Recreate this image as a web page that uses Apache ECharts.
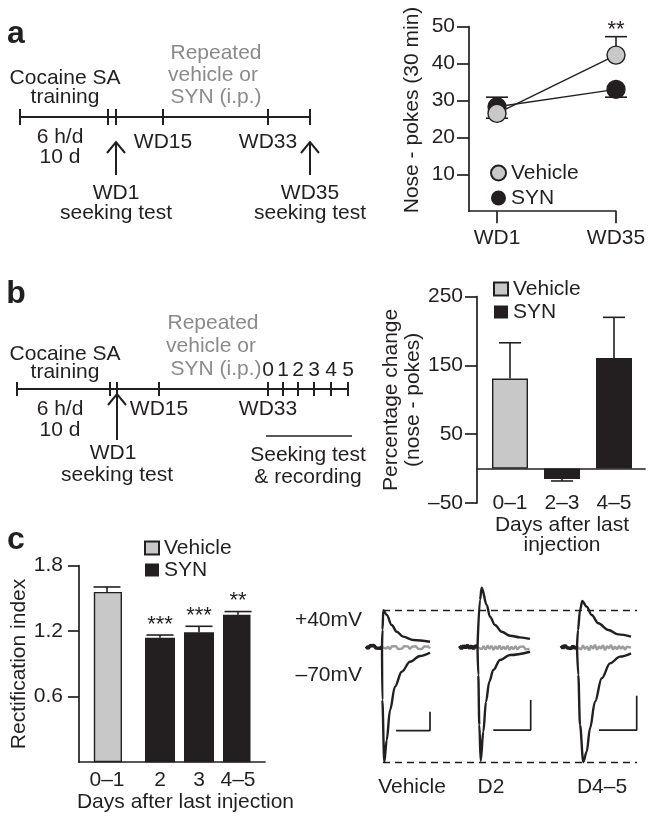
<!DOCTYPE html>
<html><head><meta charset="utf-8">
<script src="https://cdn.jsdelivr.net/npm/echarts@6/dist/echarts.min.js"></script>
<style>html,body{margin:0;padding:0;background:#fff}#chart{width:654px;height:819px}</style>
</head><body><div id="chart"></div>
<script>
// ================= DATA =================
// Panel a : nose-pokes (30 min)
const aCategories = ['WD1', 'WD35'];
const aVehicleMean = [26.5, 42.3];
const aVehicleSem  = [1.3, 5.0];
const aSynMean     = [28.3, 33.0];
const aSynSem      = [2.6, 2.1];
const aStars       = ['', '**'];
const aYTicks      = [10, 20, 30, 40, 50];

// Panel b : percentage change (nose-pokes)
const bCategories  = ['0–1', '2–3', '4–5'];
const bVehicleMean = [131, null, null];
const bSynMean     = [null, -15, 161];
const bSem         = [52, 3, 59];
const bYTicks      = [-50, 50, 150, 250];

// Panel c : rectification index
const cCategories  = ['0–1', '2', '3', '4–5'];
const cVehicleMean = [1.56, null, null, null];
const cSynMean     = [null, 1.14, 1.19, 1.35];
const cSem         = [0.045, 0.025, 0.055, 0.03];
const cStars       = ['', '***', '***', '**'];
const cYTicks      = [0.6, 1.2, 1.8];

// Panel c traces : [time ms from step, current normalised to -70 mV peak]
const traceLabels = ['Vehicle', 'D2', 'D4–5'];
const sampleMs = 1;
const vehUpper = [[0,0],[0.25,0.15],[0.65,0.32],[2.35,0.278],[4.85,0.191],[7.35,0.133],[10.65,0.09],[15.65,0.061],[24,0.046]];
const vehLower = [[0,0],[0.15,-0.46],[1.15,-1.0],[2.35,-0.81],[4,-0.55],[6.5,-0.345],[9.85,-0.215],[14,-0.128],[19,-0.078],[24,-0.05]];
const vehPre   = [0.006,-0.012,0.01,-0.004,0.013,-0.009,0.007,-0.011,0];
const vehGray  = [0,0.007,-0.015,0.003,-0.019,0.006,-0.011,0.008,-0.017,0,-0.014,0.007,-0.009,0.005,-0.018,0.002,-0.013,0.006,-0.015,-0.001,-0.017,0.004,-0.011,0.005,-0.013];
const vehScale = [[7,-0.728],[24,-0.728],[24,-0.563]];

const d2Upper = [[0,0],[1.25,0.41],[2.1,0.516],[4.6,0.365],[6.25,0.263],[8.75,0.191],[12.1,0.133],[16.25,0.098],[21.25,0.084],[26.25,0.07]];
const d2Lower = [[0,0],[0.4,-0.243],[0.9,-0.678],[1.6,-0.99],[2.9,-0.737],[4.25,-0.476],[5.9,-0.302],[7.9,-0.2],[11.25,-0.113],[16.25,-0.07],[26.25,-0.041]];
const d2Pre   = [0.01,-0.015,0.012,-0.008,0.016,-0.012,0.009,-0.014,0.011,0];
const d2Gray  = [0,0.012,-0.02,0.008,-0.024,0.014,-0.016,0.01,-0.026,0.006,-0.018,0.012,-0.022,0.004,-0.02,0.01,-0.025,0.002,-0.019,0.008,-0.023,0,-0.017,0.006,-0.021,-0.004,-0.016];
const d2Scale = [[7.9,-0.722],[26.6,-0.722],[26.6,-0.461]];

const d45Upper = [[0,0],[0.5,0.148],[1.5,0.32],[2.65,0.4],[4.85,0.35],[7.35,0.278],[10.65,0.206],[15.65,0.148],[20.65,0.11],[27,0.09]];
const d45Lower = [[0,0],[0.65,-0.243],[1.5,-0.678],[3.15,-1.0],[4.85,-0.91],[6.5,-0.707],[9,-0.476],[12.35,-0.272],[16.5,-0.142],[21.5,-0.084],[27,-0.055]];
const d45Pre   = [0.012,-0.01,0.015,-0.006,0.011,-0.014,0.008,-0.012,0];
const d45Gray  = [0,0.01,-0.022,0.014,-0.018,0.004,-0.03,0.012,-0.016,0.02,-0.024,0.006,-0.014,0.016,-0.028,0.008,-0.012,0.018,-0.022,0.004,-0.02,0.01,-0.016,0.006,-0.024,0.002,-0.014,-0.006];
const d45Scale = [[11,-0.722],[29.85,-0.722],[29.85,-0.423]];

// ================= STYLE =================
const FONT = '"Liberation Sans", Arial, Helvetica, sans-serif';
const FS = 21;
const INK = '#231f20';
const GREY_FILL = '#c8c8c8';
const GREY_TXT = '#8a8a8a';
const TRACE_GREY = '#9c9c9c';
const axisLS = { color: INK, width: 1.7 };
const C_BAR_W = 30, C_BAR_GAP = -16;             // px
const cShift = (C_BAR_W + C_BAR_GAP) / 2;

const chart = echarts.init(document.getElementById('chart'), null, { renderer: 'canvas' });

// ---------- helpers ----------
function errRows(means, sems, dirFn) {
  const rows = [];
  means.forEach((m, i) => {
    if (m == null) return;
    const d = dirFn(i, m);
    rows.push([i, m, m + d * sems[i]]);
  });
  return rows;
}
function errRender(capW, shift) {
  return function (params, api) {
    const i = api.value(0), m = api.value(1), e = api.value(2);
    const p0 = api.coord([i, m]), p1 = api.coord([i, e]);
    const x = p0[0] + shift;
    const st = { stroke: INK, lineWidth: 1.6 };
    return { type: 'group', children: [
      { type: 'line', shape: { x1: x, y1: p0[1], x2: x, y2: p1[1] }, style: st },
      { type: 'line', shape: { x1: x - capW / 2, y1: p1[1], x2: x + capW / 2, y2: p1[1] }, style: st }
    ]};
  };
}
function starRender(stars, shift, lift, size) {
  return function (params, api) {
    const i = api.value(0), y = api.value(1);
    const p = api.coord([i, y]);
    return { type: 'text', style: { text: stars[i], x: p[0] + shift, y: p[1] - lift,
      align: 'center', verticalAlign: 'middle', font: size + 'px ' + FONT, fill: INK } };
  };
}
function withTime(vals, startMs) { return vals.map((v, i) => [startMs + i * sampleMs, v]); }

// ---------- derived rows ----------
const aVehErr = errRows(aVehicleMean, aVehicleSem, (i, m) => (m >= aSynMean[i] ? 1 : -1));
const aSynErr = errRows(aSynMean, aSynSem, (i, m) => (m > aVehicleMean[i] ? 1 : -1));
const aStarRows = aCategories.map((c, i) => [i, Math.max(aVehicleMean[i] + aVehicleSem[i], aSynMean[i] + aSynSem[i])]);
const bMeans = bVehicleMean.map((v, i) => (v != null ? v : bSynMean[i]));
const bErr = errRows(bMeans, bSem, (i, m) => (m >= 0 ? 1 : -1));
const cVehErr = errRows(cVehicleMean, cSem, () => 1);
const cSynErr = errRows(cSynMean, cSem, () => 1);
const cStarRows = cSynErr.map(r => [r[0], r[2]]);

// ---------- grids ----------
const gA = { top: 26.7, height: 184.5 }, gB = { top: 296.7, height: 206.3 }, gC = { top: 565.7, height: 196.5 };
const gT = { top: 578, height: 195.5 };
const grid = [
  { left: 469, width: 147, ...gA },
  { left: 497, width: 119, ...gA },
  { left: 477, width: 168, ...gB },
  { left: 484, width: 156, ...gB },
  { left: 79, width: 186, ...gC },
  { left: 94.5, width: 156, ...gC },
  { left: 362, width: 90, ...gT },
  { left: 457.5, width: 90, ...gT },
  { left: 557, width: 90, ...gT },
  { left: 383, width: 254, ...gT }
].map(g => Object.assign({ containLabel: false, outerBoundsMode: 'none' }, g));

const lbl = { fontSize: FS, color: INK, fontFamily: FONT };
const hidden = (gi, min, max, type) => ({ gridIndex: gi, type: type || 'value', min, max, show: false });
const frameX = gi => ({ gridIndex: gi, type: 'value', min: 0, max: 1, axisLine: { show: true, onZero: true, lineStyle: axisLS },
  axisTick: { show: false }, axisLabel: { show: false }, splitLine: { show: false } });

const xAxis = [
  frameX(0),
  { gridIndex: 1, type: 'category', data: aCategories, boundaryGap: false, axisLine: { show: false },
    axisTick: { show: true, length: 12, lineStyle: axisLS }, axisLabel: { ...lbl, margin: 17 } },
  frameX(2),
  { gridIndex: 3, type: 'category', data: bCategories, axisLine: { show: false, onZero: false }, axisTick: { show: false },
    axisLabel: { ...lbl, margin: 0, verticalAlign: 'middle', interval: 0, hideOverlap: false },
    name: 'Days after last\ninjection', nameLocation: 'middle', nameGap: 10,
    nameTextStyle: { ...lbl, lineHeight: 20 } },
  frameX(4),
  { gridIndex: 5, type: 'category', data: cCategories, axisLine: { show: false }, axisTick: { show: false },
    axisLabel: { margin: 8, interval: 0, hideOverlap: false,
      formatter: (v, i) => (cVehicleMean[i] != null ? '{v|' + v + '}' : '{s|' + v + '}'),
      rich: { v: { ...lbl, padding: [0, 2 * cShift, 0, 0] }, s: { ...lbl, padding: [0, 0, 0, 2 * cShift] } } },
    name: 'Days after last injection', nameLocation: 'middle', nameGap: 28,
    nameTextStyle: { ...lbl, padding: [0, 0, 0, 26] } },
  hidden(6, -10, 35), hidden(7, -10, 35), hidden(8, -10, 35), hidden(9, 0, 1)
];

const yAxis = [
  { gridIndex: 0, type: 'value', min: 0, max: 50, axisLine: { show: true, lineStyle: axisLS },
    axisTick: { show: true, length: 12, lineStyle: axisLS, customValues: aYTicks },
    axisLabel: { ...lbl, margin: 14, customValues: aYTicks }, splitLine: { show: false },
    name: 'Nose - pokes (30 min)', nameLocation: 'middle', nameGap: 46,
    nameTextStyle: { ...lbl, padding: [0, 0, 0, 18] } },
  hidden(1, 0, 50),
  { gridIndex: 2, type: 'value', min: -50, max: 250, axisLine: { show: true, lineStyle: axisLS },
    axisTick: { show: true, length: 12, lineStyle: axisLS, customValues: bYTicks },
    axisLabel: { ...lbl, margin: 14, customValues: bYTicks, formatter: v => String(v).replace('-', '–') },
    splitLine: { show: false },
    name: 'Percentage change\n(nose - pokes)', nameLocation: 'middle', nameGap: 48,
    nameTextStyle: { ...lbl, lineHeight: 22 } },
  hidden(3, -50, 250),
  { gridIndex: 4, type: 'value', min: 0, max: 1.8, axisLine: { show: true, lineStyle: axisLS },
    axisTick: { show: true, length: 11, lineStyle: axisLS, customValues: cYTicks },
    axisLabel: { ...lbl, margin: 16, customValues: cYTicks, formatter: v => v.toFixed(1) },
    splitLine: { show: false },
    name: 'Rectification index', nameLocation: 'middle', nameGap: 49, nameTextStyle: { ...lbl } },
  hidden(5, 0, 1.8),
  hidden(6, -1.1, 0.6), hidden(7, -1.1, 0.6), hidden(8, -1.1, 0.6), hidden(9, -1.1, 0.6)
];

// ---------- series ----------
const vehItem = { color: GREY_FILL, borderColor: INK, borderWidth: 1.4 };
const synItem = { color: INK };
const series = [
  { name: 'Vehicle', type: 'bar', xAxisIndex: 3, yAxisIndex: 3, data: bVehicleMean, barWidth: 36, barGap: '-100%', itemStyle: vehItem },
  { name: 'SYN', type: 'bar', xAxisIndex: 3, yAxisIndex: 3, data: bSynMean, barWidth: 36, barGap: '-100%', itemStyle: synItem },
  { name: 'Vehicle', type: 'bar', xAxisIndex: 5, yAxisIndex: 5, data: cVehicleMean, barWidth: C_BAR_W,
    barGap: (C_BAR_GAP / C_BAR_W * 100) + '%', itemStyle: vehItem },
  { name: 'SYN', type: 'bar', xAxisIndex: 5, yAxisIndex: 5, data: cSynMean, barWidth: C_BAR_W,
    barGap: (C_BAR_GAP / C_BAR_W * 100) + '%', itemStyle: synItem },
  { name: 'SYN', type: 'line', xAxisIndex: 1, yAxisIndex: 1, data: aSynMean, symbol: 'circle', symbolSize: 18,
    itemStyle: { color: INK, borderColor: INK, borderWidth: 1.3 }, lineStyle: { color: INK, width: 1.4 }, z: 3 },
  { name: 'Vehicle', type: 'line', xAxisIndex: 1, yAxisIndex: 1, data: aVehicleMean, symbol: 'circle', symbolSize: 18,
    itemStyle: vehItem, lineStyle: { color: INK, width: 1.4 }, z: 4 },
  { type: 'custom', xAxisIndex: 1, yAxisIndex: 1, data: aVehErr.concat(aSynErr), renderItem: errRender(22, 0), z: 1, encode: { x: 0, y: [1, 2] } },
  { type: 'custom', xAxisIndex: 1, yAxisIndex: 1, data: aStarRows, renderItem: starRender(aStars, 0, 7, 22), z: 5, encode: { x: 0, y: 1 } },
  { type: 'custom', xAxisIndex: 3, yAxisIndex: 3, data: bErr, renderItem: errRender(22, 0), z: 5, encode: { x: 0, y: [1, 2] } },
  { type: 'custom', xAxisIndex: 5, yAxisIndex: 5, data: cVehErr, renderItem: errRender(27, -cShift), z: 5, encode: { x: 0, y: [1, 2] } },
  { type: 'custom', xAxisIndex: 5, yAxisIndex: 5, data: cSynErr, renderItem: errRender(27, cShift), z: 5, encode: { x: 0, y: [1, 2] } },
  { type: 'custom', xAxisIndex: 5, yAxisIndex: 5, data: cStarRows, renderItem: starRender(cStars, cShift, 10.5, 22), z: 5, encode: { x: 0, y: 1 } }
];

const traceSets = [
  [vehUpper, vehLower, vehPre, vehGray, vehScale],
  [d2Upper, d2Lower, d2Pre, d2Gray, d2Scale],
  [d45Upper, d45Lower, d45Pre, d45Gray, d45Scale]
];
const tLine = (gi, data, color, width, smooth, z) => ({ type: 'line', xAxisIndex: gi, yAxisIndex: gi, data, showSymbol: false,
  symbol: 'none', smooth: smooth, smoothMonotone: 'x', lineStyle: { color, width }, z: z || 2, silent: true });
traceSets.forEach((t, k) => {
  const gi = 6 + k;
  series.push(tLine(gi, withTime(t[3], 0), TRACE_GREY, 2.4, false, 2));
  series.push(tLine(gi, withTime(t[2], -(t[2].length - 1) * sampleMs), INK, 3.6, false, 3));
  series.push(tLine(gi, t[0], INK, 2.4, 0.35, 3));
  series.push(tLine(gi, t[1], INK, 2.4, 0.35, 3));
  series.push(tLine(gi, t[4], INK, 1.7, false, 3));
});
series.push({ type: 'line', xAxisIndex: 9, yAxisIndex: 9, data: [], silent: true,
  markLine: { silent: true, symbol: ['none', 'none'], label: { show: false }, animation: false,
    lineStyle: { type: [7, 5], color: INK, width: 1.3 },
    data: [{ yAxis: Math.max(...vehUpper.map(p => p[1])) }, { yAxis: Math.min(...vehLower.map(p => p[1])) }] } });

// ---------- legends ----------
const legTxt = { fontSize: FS, color: INK, fontFamily: FONT };
const legend = [
  { data: ['Vehicle', 'SYN'], orient: 'vertical', left: 490, top: 162.5, icon: 'circle', itemWidth: 15, itemHeight: 15,
    itemGap: 4, padding: 0, textStyle: legTxt, selectedMode: false },
  { data: ['Vehicle', 'SYN'], orient: 'vertical', left: 493, top: 278.5, icon: 'rect', itemWidth: 14, itemHeight: 13,
    itemGap: 2, padding: 0, textStyle: legTxt, selectedMode: false },
  { data: ['Vehicle', 'SYN'], orient: 'vertical', left: 144, top: 537.5, icon: 'rect', itemWidth: 14, itemHeight: 13,
    itemGap: 1, padding: 0, textStyle: legTxt, selectedMode: false }
];

// ---------- schematic graphics (timelines, labels) ----------
const G = [];
function T(text, x, y, o) {
  o = o || {};
  G.push({ type: 'text', x, y, silent: true, z: 10, style: { text, fill: o.fill || INK,
    font: (o.weight || 'normal') + ' ' + (o.size || FS) + 'px ' + FONT, align: o.align || 'center', verticalAlign: 'middle' } });
}
function L(x1, y1, x2, y2, w) {
  G.push({ type: 'line', silent: true, z: 10, shape: { x1, y1, x2, y2 }, style: { stroke: INK, lineWidth: w || 2 } });
}
function arrow(x, yTop, yBot) {
  L(x, yBot, x, yTop + 1, 2);
  G.push({ type: 'polyline', silent: true, z: 10, shape: { points: [[x - 9, yTop + 11], [x, yTop], [x + 9, yTop + 11]] },
    style: { stroke: INK, lineWidth: 2, fill: null } });
}
// panel letters
T('a', 16, 34, { size: 32, weight: 'bold' });
T('b', 16, 294, { size: 32, weight: 'bold' });
T('c', 16, 540, { size: 32, weight: 'bold' });
// timeline a
L(20, 117, 310, 117, 2);
[20, 108, 116, 163, 268, 310].forEach(x => L(x, 109, x, 125, 2));
arrow(116, 142, 175); arrow(310, 142, 175);
T('Cocaine SA', 65, 78); T('training', 65, 97);
T('6 h/d', 60, 137); T('10 d', 60, 157);
T('WD15', 163, 142); T('WD33', 268, 142);
T('WD1', 116, 193); T('seeking test', 116, 213);
T('WD35', 310, 193); T('seeking test', 310, 213);
T('Repeated', 216, 53, { fill: GREY_TXT }); T('vehicle or', 213, 75, { fill: GREY_TXT }); T('SYN (i.p.)', 216, 97, { fill: GREY_TXT });
// timeline b
L(17, 389, 348, 389, 2);
[17, 110, 117, 159, 268, 283, 298, 314, 331, 348].forEach(x => L(x, 382, x, 396, 2));
['0', '1', '2', '3', '4', '5'].forEach((d, i) => T(d, [268, 283, 298, 314, 331, 348][i], 370));
arrow(117, 394, 440);
L(266, 436, 352, 436, 1.6);
T('Cocaine SA', 65, 354); T('training', 65, 372);
T('6 h/d', 60, 409); T('10 d', 60, 430);
T('WD15', 159, 409); T('WD33', 268, 409);
T('WD1', 113, 453); T('seeking test', 117, 475);
T('Seeking test', 308, 455); T('& recording', 308, 477);
T('Repeated', 213, 323, { fill: GREY_TXT }); T('vehicle or', 211, 346, { fill: GREY_TXT }); T('SYN (i.p.)', 216, 369, { fill: GREY_TXT });
// trace annotations
T('+40mV', 362, 620, { align: 'right' }); T('–70mV', 362, 675, { align: 'right' });
[412, 491, 602].forEach((x, i) => T(traceLabels[i], x, 787));

chart.setOption({
  animation: false,
  backgroundColor: '#fff',
  textStyle: { fontFamily: FONT, color: INK },
  grid, xAxis, yAxis, legend, series, graphic: G
});
</script></body></html>
